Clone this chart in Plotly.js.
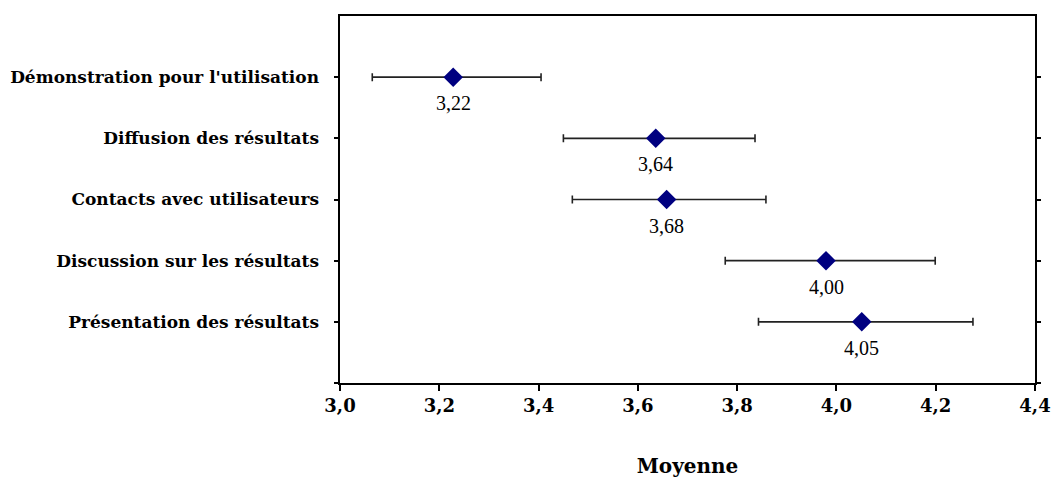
<!DOCTYPE html>
<html>
<head>
<meta charset="utf-8">
<script src="https://cdn.plot.ly/plotly-3.0.1.min.js"></script>
<style>html,body{margin:0;padding:0;background:#fff;}#chart{width:1054px;height:483px;}</style>
</head>
<body>
<div id="chart"></div>
<script>
// Categories, top to bottom
const categories = [
  "Démonstration pour l'utilisation",
  "Diffusion des résultats",
  "Contacts avec utilisateurs",
  "Discussion sur les résultats",
  "Présentation des résultats"
];
// Mean (marker position), lower and upper error bounds
const means = [3.228, 3.636, 3.658, 3.979, 4.051];
const lows  = [3.065, 3.450, 3.468, 3.776, 3.843];
const highs = [3.405, 3.836, 3.858, 4.199, 4.275];
// Value labels as printed
const valueLabels = ["3,22", "3,64", "3,68", "4,00", "4,05"];
// X tick values
const xTicks = [3.0, 3.2, 3.4, 3.6, 3.8, 4.0, 4.2, 4.4];

const n = categories.length;
const yPos = categories.map((c, i) => n - i);

const trace = {
  type: 'scatter',
  mode: 'markers',
  x: means,
  y: yPos,
  marker: {symbol: 'diamond', color: '#000080', size: 15, line: {width: 0}},
  error_x: {
    type: 'data',
    symmetric: false,
    array: highs.map((h, i) => h - means[i]),
    arrayminus: means.map((m, i) => m - lows[i]),
    color: '#222',
    thickness: 1.6,
    width: 4
  },
  cliponaxis: false,
  hoverinfo: 'skip'
};

const annotations = means.map((m, i) => ({
  x: m, y: yPos[i], xref: 'x', yref: 'y',
  text: valueLabels[i], showarrow: false,
  yshift: -26,
  font: {family: 'Liberation Serif, Times New Roman, serif', size: 20, color: '#000'}
}));

const yTickVals = [0].concat(yPos.slice().reverse());
const yTickText = [''].concat(categories.slice().reverse());

const serifBold = 'DejaVu Serif, serif';

const layout = {
  width: 1054,
  height: 483,
  margin: {l: 340, r: 19, t: 16, b: 100},
  paper_bgcolor: '#fff',
  plot_bgcolor: '#fff',
  showlegend: false,
  annotations: annotations,
  xaxis: {
    range: [3.0, 4.4],
    tickvals: xTicks,
    tickformat: '.1f',
    ticks: 'outside',
    ticklen: 6,
    tickwidth: 2,
    tickcolor: '#000',
    showgrid: false,
    zeroline: false,
    showline: true,
    linecolor: '#000',
    linewidth: 1.6,
    mirror: true,
    tickfont: {family: serifBold, size: 18, color: '#000', weight: 'bold'},
    title: {text: 'Moyenne', standoff: 44,
      font: {family: serifBold, size: 20, color: '#000', weight: 'bold'}}
  },
  yaxis: {
    range: [0, n + 1],
    tickvals: yTickVals,
    ticktext: yTickText,
    ticks: 'outside',
    ticklen: 4,
    tickwidth: 2,
    tickcolor: '#000',
    showgrid: false,
    zeroline: false,
    showline: true,
    linecolor: '#000',
    linewidth: 1.6,
    mirror: 'ticks',
    ticklabelstandoff: 12,
    tickfont: {family: serifBold, size: 17, color: '#000', weight: 'bold'}
  },
  separators: ', '
};

Plotly.newPlot('chart', [trace], layout, {staticPlot: true, displayModeBar: false});
</script>
</body>
</html>
